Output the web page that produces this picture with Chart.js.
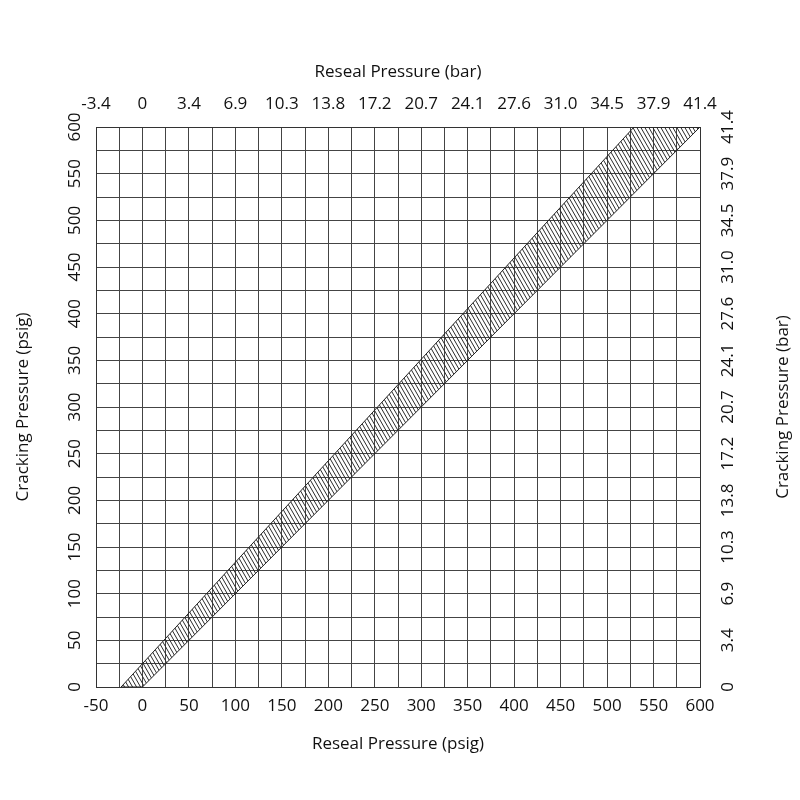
<!DOCTYPE html>
<html><head><meta charset="utf-8">
<script src="https://cdn.jsdelivr.net/npm/chart.js@4.4.0/dist/chart.umd.min.js"></script>
<style>html,body{margin:0;padding:0;background:#fff}#wrap{width:800px;height:800px}</style>
</head><body><div id="wrap"><canvas id="c" width="800" height="800"></canvas></div>
<script>
// ---- data ----
const resealPsigTicks = [-50, 0, 50, 100, 150, 200, 250, 300, 350, 400, 450, 500, 550, 600];
const resealBarLabels = ['-3.4', '0', '3.4', '6.9', '10.3', '13.8', '17.2', '20.7', '24.1', '27.6', '31.0', '34.5', '37.9', '41.4'];
const crackingPsigTicks = [0, 50, 100, 150, 200, 250, 300, 350, 400, 450, 500, 550, 600];
const crackingBarLabels = ['0', '3.4', '6.9', '10.3', '13.8', '17.2', '20.7', '24.1', '27.6', '31.0', '34.5', '37.9', '41.4'];
// band outline (reseal psig, cracking psig), closed polygon
const bandReseal = [-23, 529, 600, 0, -23];
const bandCracking = [0, 600, 600, 0, 0];

const FONT = "'Open Sans', 'Noto Sans', sans-serif";
const FS = 17;
const GRID = '#444';
const TXT = '#111';

// hatch pattern
function makeHatch() {
  const w = 4, h = 7;
  const c = document.createElement('canvas');
  c.width = w; c.height = h;
  const g = c.getContext('2d');
  g.strokeStyle = '#2a2a2a';
  g.lineWidth = 1;
  for (const dx of [-w, 0, w]) {
    g.beginPath();
    g.moveTo(dx, 0);
    g.lineTo(dx + w, h);
    g.stroke();
  }
  return g.createPattern(c, 'repeat');
}

const bandPoints = bandReseal.map((x, i) => ({ x, y: bandCracking[i] }));

const rightTitle = {
  id: 'rightTitle',
  afterDraw(chart) {
    const ctx = chart.ctx;
    const area = chart.chartArea;
    ctx.save();
    ctx.translate(783, (area.top + area.bottom) / 2);
    ctx.rotate(-Math.PI / 2);
    ctx.font = FS + 'px ' + FONT;
    ctx.fillStyle = TXT;
    ctx.textAlign = 'center';
    ctx.textBaseline = 'middle';
    ctx.fillText('Cracking Pressure (bar)', 0, 0);
    ctx.restore();
  }
};

function labelFrom(ticksArr, labels) {
  return function (value) {
    const i = ticksArr.indexOf(value);
    return i >= 0 ? labels[i] : '';
  };
}

new Chart(document.getElementById('c'), {
  type: 'scatter',
  data: {
    datasets: [{
      data: bandPoints,
      showLine: true,
      fill: 'shape',
      backgroundColor: makeHatch(),
      borderColor: '#222',
      borderWidth: 1,
      pointRadius: 0,
      pointHoverRadius: 0,
      tension: 0
    }]
  },
  options: {
    responsive: false,
    animation: false,
    devicePixelRatio: 1,
    layout: { padding: 0 },
    plugins: { legend: { display: false }, tooltip: { enabled: false } },
    scales: {
      x: {
        type: 'linear', position: 'bottom', min: -50, max: 600,
        afterFit: s => { s.height = 113; },
        ticks: { stepSize: 25, autoSkip: false, maxRotation: 0, padding: 9, color: TXT,
          font: { family: FONT, size: FS }, callback: labelFrom(resealPsigTicks, resealPsigTicks.map(String)) },
        grid: { color: GRID, lineWidth: 1, drawTicks: false },
        border: { display: true, color: '#333' },
        title: { display: true, text: 'Reseal Pressure (psig)', color: TXT, font: { family: FONT, size: FS }, padding: { top: 0, bottom: 46 } }
      },
      x2: {
        type: 'linear', position: 'top', min: -50, max: 600,
        afterFit: s => { s.height = 127; },
        ticks: { stepSize: 25, autoSkip: false, maxRotation: 0, padding: 13, color: TXT,
          font: { family: FONT, size: FS }, callback: labelFrom(resealPsigTicks, resealBarLabels) },
        grid: { display: false, drawTicks: false },
        border: { display: true, color: '#333' },
        title: { display: true, text: 'Reseal Pressure (bar)', color: TXT, font: { family: FONT, size: FS }, padding: { top: 62, bottom: 0 } }
      },
      y: {
        type: 'linear', position: 'left', min: 0, max: 600,
        afterFit: s => { s.width = 96; },
        ticks: { stepSize: 25, autoSkip: false, minRotation: 90, maxRotation: 90, crossAlign: 'center', padding: 6, color: TXT,
          font: { family: FONT, size: FS }, callback: labelFrom(crackingPsigTicks, crackingPsigTicks.map(String)) },
        grid: { color: GRID, lineWidth: 1, drawTicks: false },
        border: { display: true, color: '#333' },
        title: { display: true, text: 'Cracking Pressure (psig)', color: TXT, font: { family: FONT, size: FS }, padding: { top: 13, bottom: 0 } }
      },
      y2: {
        type: 'linear', position: 'right', min: 0, max: 600,
        afterFit: s => { s.width = 100; },
        ticks: { stepSize: 25, autoSkip: false, minRotation: 90, maxRotation: 90, crossAlign: 'center', padding: 11, color: TXT,
          font: { family: FONT, size: FS }, callback: labelFrom(crackingPsigTicks, crackingBarLabels) },
        grid: { display: false, drawTicks: false },
        border: { display: true, color: '#333' }
      }
    }
  },
  plugins: [rightTitle]
});
</script>
</body></html>
